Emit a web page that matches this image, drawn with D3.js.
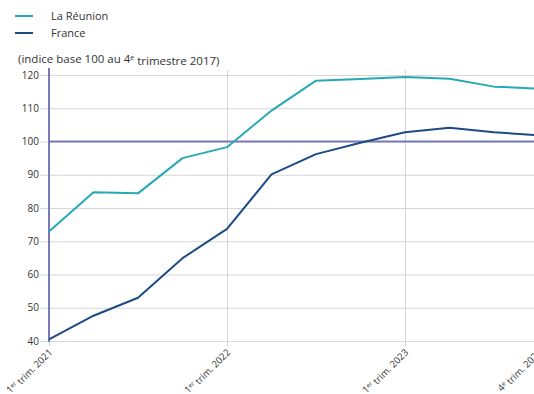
<!DOCTYPE html>
<html>
<head>
  <meta charset="utf-8">
  <script src="https://d3js.org/d3.v7.min.js"></script>
  <style>
    body { margin: 0; background: #ffffff; font-family: 'Open Sans', sans-serif; }
    text { font-family: 'Open Sans', sans-serif; fill: #333; }
  </style>
</head>
<body>
  <div id="chart"></div>
  <script>
    // quarters, 1er trim. 2021 -> 4e trim. 2023
    var quarters = ["2021T1", "2021T2", "2021T3", "2021T4", "2022T1", "2022T2", "2022T3", "2022T4",
      "2023T1", "2023T2", "2023T3", "2023T4"];
    var reunion = [72.9, 84.7, 84.4, 95.0, 98.3, 109.3, 118.3, 118.8, 119.4, 118.9, 116.5, 115.9];
    var france = [40.5, 47.6, 53.0, 64.9, 73.7, 90.1, 96.2, 99.6, 102.8, 104.1, 102.8, 101.9];
    var tickQuarters = ["2021T1", "2022T1", "2023T1", "2023T4"];
    var tickLabels = [["1", "er", " trim. 2021"], ["1", "er", " trim. 2022"], ["1", "er", " trim. 2023"], ["4", "e", " trim. 2023"]];
    var yTicks = [40, 50, 60, 70, 80, 90, 100, 110, 120];
    var series = [
      { name: "La Réunion", values: reunion, color: "#27a9b4" },
      { name: "France", values: france, color: "#1d4b86" }
    ];

    var width = 534, height = 394;
    var margin = { top: 75, left: 49 };

    var svg = d3.select("#chart").append("svg")
      .attr("width", width)
      .attr("height", height);

    var x = d3.scalePoint()
      .domain(quarters)
      .range([margin.left, margin.left + 44.5 * 11]);

    var y = d3.scaleLinear()
      .domain([40, 120])
      .range([341, margin.top]);

    // horizontal grid
    svg.append("g")
      .selectAll("line")
      .data(yTicks)
      .enter().append("line")
      .attr("x1", 40).attr("x2", width)
      .attr("y1", function (d) { return y(d) + 0.5; })
      .attr("y2", function (d) { return y(d) + 0.5; })
      .style("stroke", "#d6d6d6")
      .style("stroke-width", 1);

    // vertical grid at years
    svg.append("g")
      .selectAll("line")
      .data(tickQuarters)
      .enter().append("line")
      .attr("x1", function (d) { return x(d) + 0.5; })
      .attr("x2", function (d) { return x(d) + 0.5; })
      .attr("y1", 70).attr("y2", 346)
      .style("stroke", "#d6d6d6")
      .style("stroke-width", 1);

    // y labels
    svg.append("g")
      .selectAll("text")
      .data(yTicks)
      .enter().append("text")
      .attr("x", 39)
      .attr("y", function (d) { return y(d); })
      .attr("dy", "0.35em")
      .attr("text-anchor", "end")
      .style("font-size", "10px")
      .text(function (d) { return d; });

    // y axis + base 100 line
    svg.append("line")
      .attr("x1", margin.left).attr("x2", margin.left)
      .attr("y1", 68).attr("y2", 342)
      .style("stroke", "#7a78b6")
      .style("stroke-width", 2);

    svg.append("line")
      .attr("x1", margin.left).attr("x2", width)
      .attr("y1", y(100)).attr("y2", y(100))
      .style("stroke", "#7a78b6")
      .style("stroke-width", 2);

    // x labels, rotated
    var xl = svg.append("g")
      .selectAll("text")
      .data(tickQuarters)
      .enter().append("text")
      .attr("transform", function (d) { return "translate(" + (x(d) + 3) + ",352) rotate(-45)"; })
      .attr("text-anchor", "end")
      .style("font-size", "9.5px");
    xl.each(function (d, i) {
      var t = d3.select(this);
      var parts = tickLabels[i];
      t.append("tspan").text(parts[0]);
      t.append("tspan").attr("dy", "-0.4em").style("font-size", "6px").text(parts[1]);
      t.append("tspan").attr("dy", "0.4em").text(parts[2]);
    });

    // lines
    var line = d3.line()
      .x(function (d, i) { return x(quarters[i]); })
      .y(function (d) { return y(d); });

    svg.append("g")
      .selectAll("path")
      .data(series)
      .enter().append("path")
      .attr("d", function (d) { return line(d.values); })
      .style("fill", "none")
      .style("stroke", function (d) { return d.color; })
      .style("stroke-width", 2)
      .style("stroke-linejoin", "round");

    // legend
    var leg = svg.append("g")
      .selectAll("g")
      .data(series)
      .enter().append("g")
      .attr("transform", function (d, i) { return "translate(15," + (16 + i * 17) + ")"; });
    leg.append("line")
      .attr("x1", 0).attr("x2", 18)
      .style("stroke", function (d) { return d.color; })
      .style("stroke-width", 2);
    leg.append("text")
      .attr("x", 36)
      .attr("dy", "0.35em")
      .style("font-size", "11px")
      .text(function (d) { return d.name; });

    // unit
    var unit = svg.append("text")
      .attr("x", 18)
      .attr("y", 63)
      .style("font-size", "11.5px");
    unit.append("tspan").text("(indice base 100 au 4");
    unit.append("tspan").attr("dy", "-0.45em").style("font-size", "7px").text("e");
    unit.append("tspan").attr("dy", "0.45em").text(" trimestre 2017)");
  </script>
</body>
</html>
